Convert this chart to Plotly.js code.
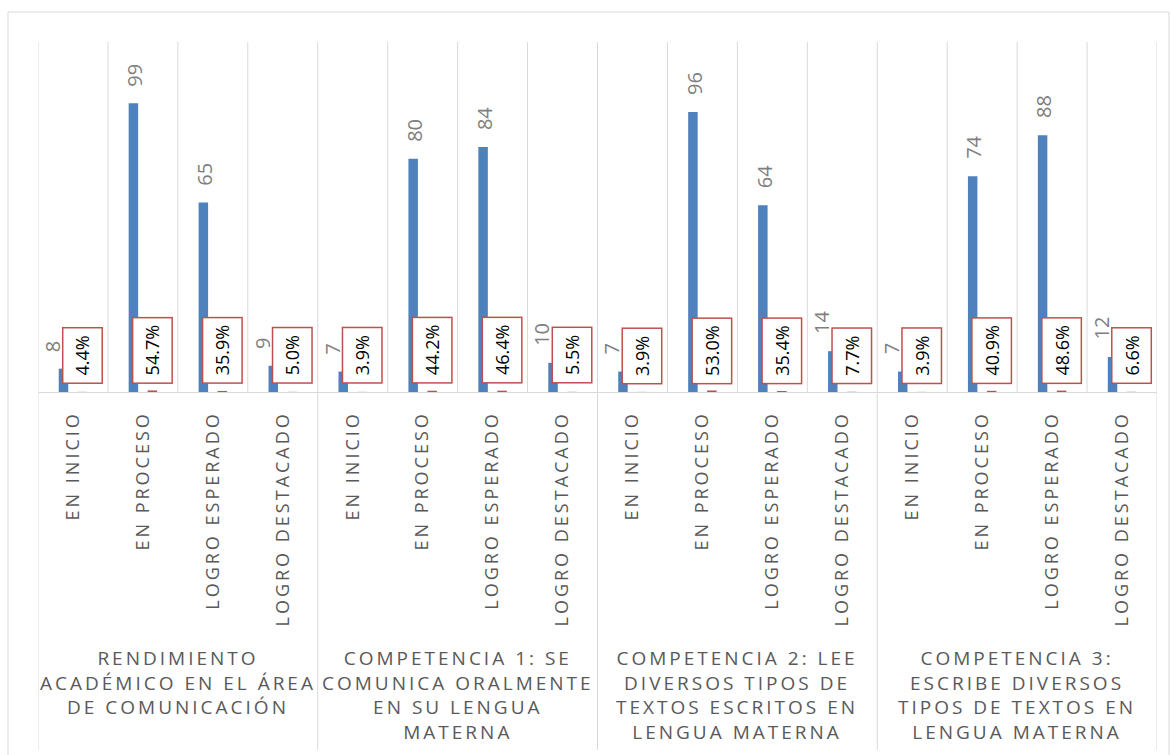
<!DOCTYPE html>
<html><head><meta charset="utf-8">
<script src="https://cdn.plot.ly/plotly-3.0.1.min.js"></script>
<style>
html,body{margin:0;padding:0;background:#fff;}
#chart{width:1172px;height:755px;}
.xtick text{letter-spacing:3px;}
.annotation[data-index="0"] text,.annotation[data-index="1"] text,.annotation[data-index="2"] text,.annotation[data-index="3"] text{letter-spacing:3px;}
</style></head><body><div id="chart"></div>
<script>
const groups = [
  "RENDIMIENTO<br>ACADÉMICO EN EL ÁREA<br>DE COMUNICACIÓN",
  "COMPETENCIA 1: SE<br>COMUNICA ORALMENTE<br>EN SU LENGUA<br>MATERNA",
  "COMPETENCIA 2: LEE<br>DIVERSOS TIPOS DE<br>TEXTOS ESCRITOS EN<br>LENGUA MATERNA",
  "COMPETENCIA 3:<br>ESCRIBE DIVERSOS<br>TIPOS DE TEXTOS EN<br>LENGUA MATERNA"
];
const levels = ["EN INICIO", "EN PROCESO", "LOGRO ESPERADO", "LOGRO DESTACADO"];
const counts = [8, 99, 65, 9, 7, 80, 84, 10, 7, 96, 64, 14, 7, 74, 88, 12];
const percents = [0.044, 0.547, 0.359, 0.050, 0.039, 0.442, 0.464, 0.055, 0.039, 0.530, 0.354, 0.077, 0.039, 0.409, 0.486, 0.066];

const nLev = levels.length;
const idx = counts.map((_, i) => i);
const catLabels = idx.map(i => levels[i % nLev]);

// plot geometry (px)
const W = 1172, H = 755, ML = 38, MR = 15, MT = 42, MB = 363;
const PW = W - ML - MR, PH = H - MT - MB;
const YMAX = 120;
const py = px => (H - MB - px) / PH;   // pixel y -> paper y
const pxX = px => (px - ML) / PW;      // pixel x -> paper x

const gridCol = '#d9d9d9';
const shapes = [];
for (let i = 0; i <= idx.length; i++) {
  const isGroup = i % nLev === 0;
  shapes.push({type: 'line', xref: 'x', yref: 'paper', x0: i - 0.5, x1: i - 0.5,
    y0: isGroup ? py(750) : 0, y1: 1, line: {color: gridCol, width: 1}, layer: 'below'});
}
shapes.push({type: 'rect', xref: 'paper', yref: 'paper', x0: pxX(8), x1: pxX(1169),
  y0: py(800), y1: py(12), line: {color: gridCol, width: 1}, layer: 'below'});

const annotations = [];
groups.forEach((g, gi) => {
  annotations.push({x: gi * nLev + (nLev - 1) / 2, xref: 'x', y: py(643), yref: 'paper',
    yanchor: 'top', xanchor: 'center', text: g, showarrow: false, align: 'center',
    font: {family: 'Open Sans', size: 19, color: '#595959'}});
});
const pxPerUnit = PH / YMAX;
const boxTopPx = 66;      // approx height of the percentage label box above baseline
idx.forEach(i => {
  annotations.push({x: i, y: 0, xref: 'x', yref: 'y', text: (percents[i] * 100).toFixed(1) + '%',
    showarrow: false, textangle: -90, yanchor: 'bottom', xanchor: 'center', xshift: 9.5, yshift: 8,
    bgcolor: '#ffffff', bordercolor: '#C0504D', borderwidth: 1.5, borderpad: 7,
    font: {family: 'Open Sans', size: 18, color: '#000000'}});
  const collides = counts[i] * pxPerUnit + 16 < boxTopPx;
  annotations.push({x: i, y: counts[i], xref: 'x', yref: 'y', text: String(counts[i]),
    showarrow: false, textangle: -90, yanchor: 'bottom', xanchor: 'center',
    xshift: collides ? -21 : -8, yshift: 15,
    font: {family: 'Open Sans', size: 20, color: '#7f7f7f'}});
});

const traces = [
  {type: 'bar', x: idx, y: counts, name: 'Cantidad', marker: {color: '#4F81BD'}, hoverinfo: 'none'},
  {type: 'bar', x: idx, y: percents, name: 'Porcentaje', marker: {color: '#C0504D'}, hoverinfo: 'none'}
];

const layout = {
  width: W, height: H,
  margin: {l: ML, r: MR, t: MT, b: MB, pad: 0},
  paper_bgcolor: '#ffffff', plot_bgcolor: '#ffffff',
  showlegend: false,
  barmode: 'group', bargap: 0.457, bargroupgap: 0.5,
  font: {family: 'Open Sans', color: '#595959'},
  xaxis: {range: [-0.5, idx.length - 0.5], tickmode: 'array', tickvals: idx, ticktext: catLabels,
    tickangle: -90, tickfont: {family: 'Open Sans', size: 18, color: '#595959'},
    showgrid: false, zeroline: false, showline: true, linecolor: gridCol, linewidth: 1,
    ticks: '', ticklabelstandoff: 11, fixedrange: true},
  yaxis: {range: [0, YMAX], showgrid: false, zeroline: false, showticklabels: false, showline: false,
    ticks: '', fixedrange: true},
  shapes: shapes,
  annotations: annotations
};

Plotly.newPlot('chart', traces, layout, {displayModeBar: false, staticPlot: true});
</script></body></html>
